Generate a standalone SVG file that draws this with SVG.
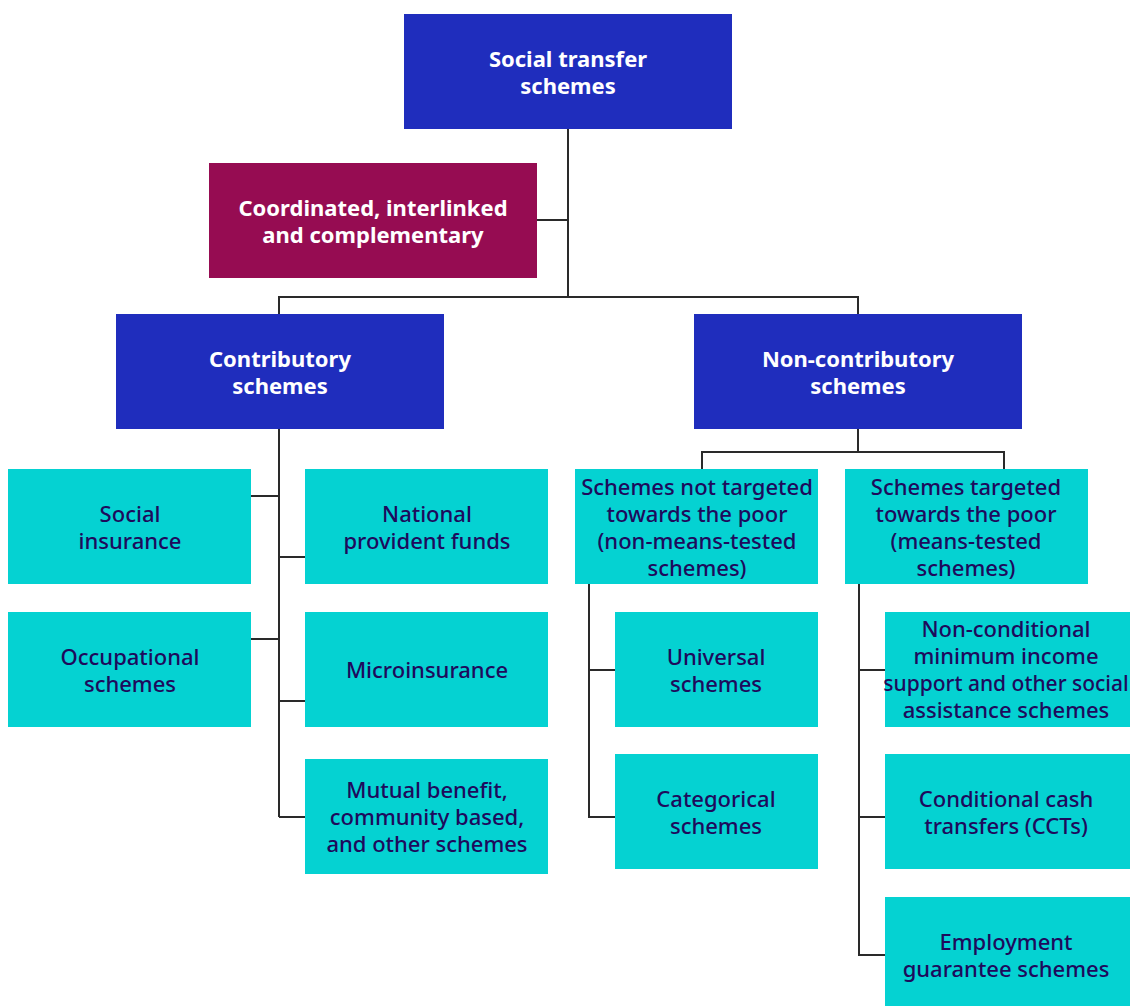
<svg xmlns="http://www.w3.org/2000/svg" width="1131" height="1006" viewBox="0 0 1131 1006">
<style>
.blue{fill:#1f2dbd}
.red{fill:#960c52}
.cyan{fill:#05d2d2}
.wt{font-family:"Noto Sans","Open Sans",sans-serif;font-size:22px;font-weight:bold;fill:#ffffff;text-anchor:middle}
.dt{font-family:"Noto Sans","Open Sans",sans-serif;font-size:22px;font-weight:500;fill:#1e0a5c;text-anchor:middle}
.ln{stroke:#2a2a2a;stroke-width:2;fill:none}
</style>
<rect width="1131" height="1006" fill="#ffffff"/>
<g id="connectors">
<path class="ln" d="M568,129 V297 M537,220 H568 M279,314 V297 H858 V314"/>
<path class="ln" d="M279,429 V817 M251,496 H279 M279,557 H305 M251,639 H279 M279,701 H305 M279,817 H305"/>
<path class="ln" d="M858,429 V452 M702,469 V452 H1004 V469"/>
<path class="ln" d="M589,584 V817 H615 M589,670 H615"/>
<path class="ln" d="M859,584 V955 H885 M859,670 H885 M859,817 H885"/>
</g>
<g id="n-social-transfer"><rect class="blue" x="404" y="14" width="328" height="115"/><text class="wt" x="568" y="67">Social transfer</text><text class="wt" x="568" y="94">schemes</text></g>
<g id="n-coordinated"><rect class="red" x="209" y="163" width="328" height="115"/><text class="wt" x="373" y="216">Coordinated, interlinked</text><text class="wt" x="373" y="243">and complementary</text></g>
<g id="n-contributory"><rect class="blue" x="116" y="314" width="328" height="115"/><text class="wt" x="280" y="367">Contributory</text><text class="wt" x="280" y="394">schemes</text></g>
<g id="n-noncontributory"><rect class="blue" x="694" y="314" width="328" height="115"/><text class="wt" x="858" y="367">Non-contributory</text><text class="wt" x="858" y="394">schemes</text></g>
<g id="n-social-insurance"><rect class="cyan" x="8" y="469" width="243" height="115"/><text class="dt" x="130" y="522">Social</text><text class="dt" x="130" y="549">insurance</text></g>
<g id="n-national"><rect class="cyan" x="305" y="469" width="243" height="115"/><text class="dt" x="427" y="522">National</text><text class="dt" x="427" y="549">provident funds</text></g>
<g id="n-occupational"><rect class="cyan" x="8" y="612" width="243" height="115"/><text class="dt" x="130" y="665">Occupational</text><text class="dt" x="130" y="692">schemes</text></g>
<g id="n-micro"><rect class="cyan" x="305" y="612" width="243" height="115"/><text class="dt" x="427" y="678">Microinsurance</text></g>
<g id="n-mutual"><rect class="cyan" x="305" y="759" width="243" height="115"/><text class="dt" x="427" y="798">Mutual benefit,</text><text class="dt" x="427" y="825">community based,</text><text class="dt" x="427" y="852">and other schemes</text></g>
<g id="n-not-targeted"><rect class="cyan" x="575" y="469" width="243" height="115"/><text class="dt" x="697" y="495">Schemes not targeted</text><text class="dt" x="697" y="522">towards the poor</text><text class="dt" x="697" y="549">(non-means-tested</text><text class="dt" x="697" y="576">schemes)</text></g>
<g id="n-targeted"><rect class="cyan" x="845" y="469" width="243" height="115"/><text class="dt" x="966" y="495">Schemes targeted</text><text class="dt" x="966" y="522">towards the poor</text><text class="dt" x="966" y="549">(means-tested</text><text class="dt" x="966" y="576">schemes)</text></g>
<g id="n-universal"><rect class="cyan" x="615" y="612" width="203" height="115"/><text class="dt" x="716" y="665">Universal</text><text class="dt" x="716" y="692">schemes</text></g>
<g id="n-categorical"><rect class="cyan" x="615" y="754" width="203" height="115"/><text class="dt" x="716" y="807">Categorical</text><text class="dt" x="716" y="834">schemes</text></g>
<g id="n-nonconditional"><rect class="cyan" x="885" y="612" width="245" height="115"/><text class="dt" x="1006" y="637">Non-conditional</text><text class="dt" x="1006" y="664">minimum income</text><text class="dt" x="1006" y="691" style="font-size:21px">support and other social</text><text class="dt" x="1006" y="718">assistance schemes</text></g>
<g id="n-cct"><rect class="cyan" x="885" y="754" width="245" height="115"/><text class="dt" x="1006" y="807">Conditional cash</text><text class="dt" x="1006" y="834">transfers (CCTs)</text></g>
<g id="n-employment"><rect class="cyan" x="885" y="897" width="245" height="116"/><text class="dt" x="1006" y="950">Employment</text><text class="dt" x="1006" y="977">guarantee schemes</text></g>
</svg>
